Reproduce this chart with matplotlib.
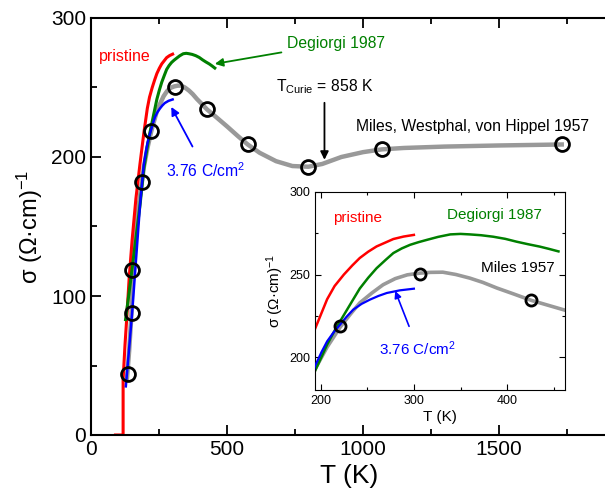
import matplotlib
matplotlib.use('Agg')
import matplotlib.pyplot as plt
from matplotlib.ticker import MultipleLocator

plt.rcParams['font.family'] = ['Liberation Sans', 'DejaVu Sans']
plt.rcParams['mathtext.default'] = 'regular'

# pristine
T_pristine = [90, 118, 118, 125, 131, 140, 151, 165, 180, 194, 207, 215, 225, 234, 242, 251,
              260, 270, 278, 289, 300]
s_pristine = [0, 0, 40, 65, 83, 112, 140, 170, 195, 217, 235, 243, 250, 255.5, 260, 263.8,
              267, 269.5, 271.5, 273, 274]

# Degiorgi 1987
T_degiorgi = [127, 145, 162, 180, 194, 207, 216, 225, 234, 242, 251, 260, 270, 278, 287, 296,
              305, 314, 326, 339, 350, 360, 372, 385, 398, 410, 422, 435, 445, 455]
s_degiorgi = [83, 110, 137, 165, 191.5, 207.5, 217, 225.5, 234, 241.5, 248, 253.8, 259, 263, 265.8, 268,
              269.6, 271, 272.8, 274.3, 274.6, 274.3, 273.8, 272.9, 271.6, 269.9, 268.4, 266.9, 265.5, 264]

# 3.76 C/cm2
T_blue = [128, 140, 152, 165, 180, 194, 201, 207, 214, 221, 228, 235, 244, 253, 262, 271, 285, 300]
s_blue = [35, 62, 90, 125, 165, 194.5, 203, 209.5, 215, 219.7, 224.5, 228.7, 232.2, 234.8, 237, 238.8, 240.4, 241.4]

# Miles, Westphal, von Hippel 1957 (guide line + measured points)
T_miles = [132, 140, 149, 152, 165, 187, 194, 207, 221, 232, 242, 255, 267, 280, 293, 306,
           318, 331, 345, 360, 374, 389, 407, 426, 443, 460, 500, 540, 576, 620, 680, 740,
           799, 850, 920, 1000, 1069, 1150, 1300, 1500, 1730]
s_miles = [40, 60, 88, 115, 150, 182, 192.5, 206, 218.1, 226, 232.8, 238.8, 243.8, 247.5, 249.8, 250.8,
           251.3, 251.4, 250, 247.8, 245.2, 241.8, 238.2, 234.3, 231.5, 228.7, 222, 215, 209, 203, 197, 193.5,
           193, 195, 200, 203.5, 205.5, 206.5, 207.5, 208.3, 209]
T_pts = [135, 149, 152, 187, 221, 307, 426, 576, 799, 1069, 1730]
s_pts = [44, 88, 119, 182, 218.5, 250.5, 234.3, 209, 193, 205.5, 209]

T_curie = 858

fig = plt.figure(figsize=(6.05, 5.0), dpi=100)
ax = fig.add_axes([91/605, 65/500, 517/605, 417/500])

ax.plot(T_miles, s_miles, color='#999999', lw=3.2, zorder=1)
ax.plot(T_pristine, s_pristine, color='red', lw=2.2, zorder=2)
ax.plot(T_degiorgi, s_degiorgi, color='green', lw=2.2, zorder=2)
ax.plot(T_blue, s_blue, color='blue', lw=1.8, zorder=3)
ax.plot(T_pts, s_pts, 'o', mfc='none', mec='black', mew=2, ms=10, zorder=4)

ax.set_xlim(0, 1900)
ax.set_ylim(0, 300)
ax.xaxis.set_major_locator(MultipleLocator(500))
ax.xaxis.set_minor_locator(MultipleLocator(250))
ax.yaxis.set_major_locator(MultipleLocator(100))
ax.yaxis.set_minor_locator(MultipleLocator(50))
ax.tick_params(which='both', direction='in', top=True, right=False, width=1.3)
ax.tick_params(which='major', length=7, labelsize=15)
ax.tick_params(which='minor', length=4)
for sp in ax.spines.values():
    sp.set_linewidth(1.5)
ax.set_xlabel('T (K)', fontsize=19, labelpad=4)
ax.set_ylabel(r'σ (Ω·cm)$^{-1}$', fontsize=17, labelpad=4)

ax.text(30, 272, 'pristine', color='red', fontsize=11.5, va='center')
ax.annotate('Degiorgi 1987', xy=(455, 267), xytext=(720, 282), color='green', fontsize=11.3,
            va='center', ha='left',
            arrowprops=dict(arrowstyle='-|>', color='green', lw=1.3, mutation_scale=12, shrinkA=2, shrinkB=0))
ax.annotate(r'T$_{Curie}$ = 858 K', xy=(T_curie, 198), xytext=(T_curie, 244), color='black', fontsize=11.3,
            ha='center', va='bottom',
            arrowprops=dict(arrowstyle='-|>', color='black', lw=1.3, mutation_scale=12, shrinkA=3, shrinkB=0))
ax.text(975, 222, 'Miles, Westphal, von Hippel 1957', color='black', fontsize=11.3, va='center')
ax.annotate(r'3.76 C/cm$^2$', xy=(295, 236), xytext=(275, 190), color='blue', fontsize=11.3,
            ha='left', va='center',
            arrowprops=dict(arrowstyle='-|>', color='blue', lw=1.3, mutation_scale=12, shrinkA=10, shrinkB=0))

# inset
ins = fig.add_axes([315/605, 110/500, 250/605, 198/500])
ins.plot(T_miles, s_miles, color='#999999', lw=2.6, zorder=1)
ins.plot(T_pristine, s_pristine, color='red', lw=1.8, zorder=2)
ins.plot(T_degiorgi, s_degiorgi, color='green', lw=1.8, zorder=2)
ins.plot(T_blue, s_blue, color='blue', lw=1.6, zorder=3)
ins.plot(T_pts, s_pts, 'o', mfc='none', mec='black', mew=2, ms=8, zorder=4)
ins.set_xlim(194, 462)
ins.set_ylim(180, 300)
ins.xaxis.set_major_locator(MultipleLocator(100))
ins.xaxis.set_minor_locator(MultipleLocator(50))
ins.yaxis.set_major_locator(MultipleLocator(50))
ins.yaxis.set_minor_locator(MultipleLocator(25))
ins.tick_params(which='both', direction='in', top=True, right=True, width=0.8)
ins.tick_params(which='major', length=4, labelsize=9)
ins.tick_params(which='minor', length=2)
for sp in ins.spines.values():
    sp.set_linewidth(0.8)
ins.set_xlabel('T (K)', fontsize=11, labelpad=2)
ins.set_ylabel(r'σ (Ω·cm)$^{-1}$', fontsize=11, labelpad=2)

ins.text(213, 284, 'pristine', color='red', fontsize=11, va='center')
ins.text(335, 286, 'Degiorgi 1987', color='green', fontsize=11, va='center')
ins.text(372, 254, 'Miles 1957', color='black', fontsize=11, va='center')
ins.annotate(r'3.76 C/cm$^2$', xy=(280, 240), xytext=(263, 205), color='blue', fontsize=11,
             ha='left', va='center',
             arrowprops=dict(arrowstyle='-|>', color='blue', lw=1.2, mutation_scale=10, shrinkA=8, shrinkB=0))

fig.savefig('out.png', dpi=100)
